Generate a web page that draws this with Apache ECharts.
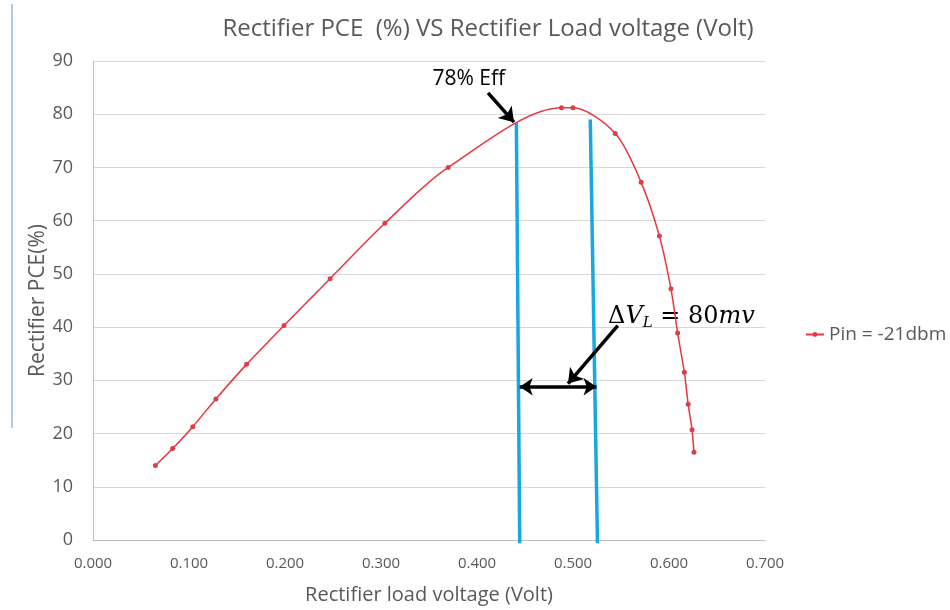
<!DOCTYPE html>
<html>
<head>
<meta charset="utf-8">
<script src="https://cdn.jsdelivr.net/npm/echarts@6/dist/echarts.min.js"></script>
<style>html,body{margin:0;padding:0;background:#fff;}#c{width:950px;height:610px;}</style>
</head>
<body>
<div id="c"></div>
<script>
// ---- data ----
const titleText = 'Rectifier PCE  (%) VS Rectifier Load voltage (Volt)';
const xName = 'Rectifier load voltage (Volt)';
const yName = 'Rectifier PCE(%)';
const seriesName = 'Pin = -21dbm';
const loadVoltage = [0.065, 0.083, 0.104, 0.128, 0.160, 0.199, 0.247, 0.304, 0.370, 0.488, 0.500, 0.544, 0.571, 0.590, 0.602, 0.609, 0.616, 0.620, 0.624, 0.626];
const pce =         [14.0, 17.2, 21.3, 26.5, 33.0, 40.3, 49.1, 59.5, 70.0, 81.2, 81.2, 76.4, 67.2, 57.1, 47.2, 38.9, 31.5, 25.5, 20.7, 16.5];
// annotation geometry (data coordinates)
const leftBlue = [[0.441, 78.4], [0.4445, -0.6]];
const rightBlue = [[0.518, 79.0], [0.5255, -0.6]];
const dblArrow = [[0.4445, 28.8], [0.5245, 28.8]];
const dvArrow = [[0.5466, 40.3], [0.4948, 29.4]];
const effArrow = [[0.4115, 84.0], [0.4385, 78.5]];
const effLabelPos = [0.353, 86.6];
const dvLabelPos = [0.536, 42.0];

const chart = echarts.init(document.getElementById('c'), null, {renderer: 'canvas'});
const gray = '#595959';
const font = '"Open Sans", "Noto Sans", sans-serif';

const option = {
  backgroundColor: '#fff',
  animation: false,
  title: {
    text: titleText, left: 483, top: 12, textAlign: 'center',
    textStyle: {fontFamily: font, fontSize: 24, fontWeight: 'normal', color: gray}
  },
  legend: {
    data: [seriesName], left: 800, top: 320, itemWidth: 18, itemHeight: 6, itemGap: 2,
    textStyle: {fontFamily: font, fontSize: 19, color: gray}
  },
  grid: {left: 93, right: 185, top: 61, bottom: 68},
  xAxis: {
    type: 'value', min: 0, max: 0.7, interval: 0.1,
    name: xName, nameLocation: 'middle', nameGap: 45,
    nameTextStyle: {fontFamily: font, fontSize: 20, color: gray},
    axisLine: {show: true, lineStyle: {color: '#bfbfbf'}},
    axisTick: {show: false},
    splitLine: {show: false},
    axisLabel: {fontFamily: font, fontSize: 15, color: gray, margin: 16, formatter: v => v.toFixed(3)}
  },
  yAxis: {
    type: 'value', min: 0, max: 90, interval: 10,
    name: yName, nameLocation: 'middle', nameGap: 44, nameMoveOverlap: false,
    nameTextStyle: {fontFamily: font, fontSize: 21, color: gray},
    axisLine: {show: true, lineStyle: {color: '#bfbfbf'}},
    axisTick: {show: false},
    splitLine: {show: true, lineStyle: {color: '#d9d9d9', width: 1}},
    axisLabel: {fontFamily: font, fontSize: 18, color: gray, margin: 20}
  },
  graphic: [{
    type: 'line', shape: {x1: 12, y1: 4, x2: 12, y2: 428},
    style: {stroke: '#5b9bd5', lineWidth: 1}
  }],
  series: [
    {
      name: seriesName, type: 'line', smooth: 0.3,
      data: loadVoltage.map((x, i) => [x, pce[i]]),
      symbol: 'circle', symbolSize: 5,
      lineStyle: {color: '#e8363f', width: 1.5},
      itemStyle: {color: '#d9404a'},
      z: 5
    },
    {
      type: 'line', data: leftBlue, symbol: 'none', clip: false, silent: true,
      lineStyle: {color: '#18a8e0', width: 3.5}, z: 4
    },
    {
      type: 'line', data: rightBlue, symbol: 'none', clip: false, silent: true,
      lineStyle: {color: '#18a8e0', width: 3.5}, z: 4
    },
    {
      type: 'line', data: [], clip: false, silent: true, z: 6,
      markLine: {
        silent: true, animation: false, symbolSize: [0, 13],
        label: {show: false},
        lineStyle: {color: '#000', width: 3.5, type: 'solid'},
        emphasis: {disabled: true},
        data: [
          [{coord: dblArrow[0], symbol: 'arrow', symbolSize: 13}, {coord: dblArrow[1], symbol: 'arrow', symbolSize: 13}],
          [{coord: dvArrow[0], symbol: 'none'}, {coord: dvArrow[1], symbol: 'arrow', symbolSize: 14}],
          [{coord: effArrow[0], symbol: 'none'}, {coord: effArrow[1], symbol: 'arrow', symbolSize: 14}]
        ]
      },
      markPoint: {
        silent: true, animation: false, symbol: 'circle', symbolSize: 1,
        itemStyle: {color: 'rgba(0,0,0,0)'},
        data: [
          {coord: effLabelPos, label: {show: true, position: 'right', distance: 0, formatter: '78% Eff',
            fontFamily: font, fontSize: 21, color: '#000'}},
          {coord: dvLabelPos, label: {show: true, position: 'right', distance: 0,
            formatter: '{b|Δ}{a|V}{s|L}{b| = 80}{a|mv}',
            rich: {
              a: {fontFamily: '"DejaVu Serif", serif', fontStyle: 'italic', fontSize: 24, color: '#000'},
              s: {fontFamily: '"DejaVu Serif", serif', fontStyle: 'italic', fontSize: 15, color: '#000', padding: [13, 0, 0, 0]},
              b: {fontFamily: '"DejaVu Serif", serif', fontSize: 24, color: '#000'}
            }}}
        ]
      }
    }
  ]
};
chart.setOption(option);
</script>
</body>
</html>
